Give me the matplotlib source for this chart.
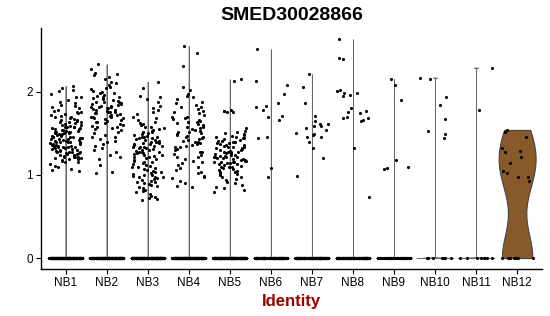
import numpy as np
import matplotlib.pyplot as plt

plt.rcParams['font.family'] = ['Liberation Sans', 'DejaVu Sans']

clusters = ['NB1', 'NB2', 'NB3', 'NB4', 'NB5', 'NB6', 'NB7', 'NB8', 'NB9', 'NB10', 'NB11', 'NB12']

# number of cells with zero expression per cluster
zero_counts = [400, 380, 420, 380, 400, 260, 300, 260, 120, 9, 8, 9]

# expressed (non-zero) values per cluster
nb1 = [2.07, 2.04, 2.02, 2.01, 1.97, 1.94, 1.93, 1.90,
       1.88, 1.86, 1.84, 1.83, 1.81, 1.80, 1.78, 1.77, 1.76, 1.75, 1.74, 1.73, 1.72, 1.71, 1.70,
       1.69, 1.68, 1.67, 1.66, 1.66, 1.65, 1.64, 1.63, 1.63, 1.62, 1.61, 1.60, 1.60, 1.59, 1.58,
       1.58, 1.57, 1.57, 1.56, 1.56, 1.55, 1.55, 1.54, 1.54, 1.53, 1.53, 1.52, 1.52, 1.51, 1.51,
       1.50, 1.50, 1.50, 1.49, 1.49, 1.48, 1.48, 1.47, 1.47, 1.46, 1.46, 1.46, 1.45, 1.45, 1.44,
       1.44, 1.43, 1.43, 1.43, 1.42, 1.42, 1.41, 1.41, 1.40, 1.40, 1.40, 1.39, 1.39, 1.38, 1.38,
       1.38, 1.37, 1.37, 1.36, 1.36, 1.36, 1.35, 1.35, 1.34, 1.34, 1.33, 1.33, 1.33, 1.32, 1.32,
       1.31, 1.31, 1.30, 1.30, 1.29, 1.29, 1.28, 1.28, 1.27, 1.27, 1.26, 1.26, 1.25, 1.25, 1.24,
       1.24, 1.23, 1.23, 1.22, 1.22, 1.21, 1.21, 1.20, 1.20, 1.19, 1.19, 1.18, 1.17, 1.16, 1.15,
       1.13, 1.11, 1.09, 1.07, 1.06, 1.05]
nb2 = [2.33, 2.27, 2.23, 2.21, 2.20, 2.18, 2.15, 2.12, 2.10, 2.08, 2.06, 2.05, 2.03, 2.01, 2.00,
       1.99, 1.98, 1.96, 1.95, 1.94, 1.93, 1.92, 1.91, 1.90, 1.89, 1.88, 1.87, 1.87, 1.86, 1.85,
       1.85, 1.84, 1.83, 1.83, 1.82, 1.81, 1.81, 1.80, 1.80, 1.79, 1.78, 1.78, 1.77, 1.76, 1.76,
       1.75, 1.74, 1.74, 1.73, 1.72, 1.72, 1.71, 1.70, 1.70, 1.69, 1.68, 1.68, 1.67, 1.66, 1.65,
       1.64, 1.63, 1.62, 1.61, 1.60, 1.59, 1.58, 1.57, 1.56, 1.55, 1.54, 1.52, 1.50, 1.48, 1.46,
       1.45, 1.43, 1.41, 1.39, 1.37, 1.35, 1.32, 1.30, 1.27, 1.24, 1.22, 1.19, 1.12, 1.04, 1.02]
nb3 = [2.12, 2.05, 1.95, 1.93, 1.91, 1.88, 1.83, 1.80, 1.78, 1.76, 1.73, 1.70, 1.68, 1.66, 1.64,
       1.62, 1.61, 1.60, 1.58, 1.57, 1.56, 1.55, 1.54, 1.53, 1.52, 1.51, 1.50, 1.49, 1.48, 1.47,
       1.46, 1.46, 1.45, 1.44, 1.44, 1.43, 1.42, 1.42, 1.41, 1.40, 1.40, 1.39, 1.38, 1.38, 1.37,
       1.37, 1.36, 1.35, 1.35, 1.34, 1.34, 1.33, 1.32, 1.32, 1.31, 1.30, 1.30, 1.29, 1.28, 1.28,
       1.27, 1.26, 1.26, 1.25, 1.24, 1.24, 1.23, 1.22, 1.21, 1.20, 1.19, 1.18, 1.17, 1.16, 1.15,
       1.14, 1.13, 1.12, 1.11, 1.10, 1.09, 1.08, 1.07, 1.06, 1.05, 1.04, 1.03, 1.02, 1.01, 1.00,
       1.00, 0.99, 0.98, 0.98, 0.97, 0.96, 0.95, 0.94, 0.93, 0.92, 0.91, 0.90, 0.89, 0.88, 0.87,
       0.86, 0.84, 0.82, 0.81, 0.79, 0.77, 0.75, 0.73, 0.72, 0.71, 0.70]
nb4 = [2.55, 2.47, 2.31, 2.06, 2.02, 1.97, 1.95, 1.93, 1.91, 1.88, 1.86, 1.84, 1.82, 1.81, 1.79,
       1.77, 1.75, 1.74, 1.72, 1.70, 1.69, 1.68, 1.67, 1.66, 1.65, 1.64, 1.63, 1.62, 1.61, 1.60,
       1.59, 1.58, 1.57, 1.56, 1.55, 1.54, 1.53, 1.52, 1.51, 1.50, 1.49, 1.48, 1.47, 1.46, 1.45,
       1.44, 1.43, 1.42, 1.41, 1.40, 1.39, 1.38, 1.37, 1.36, 1.35, 1.34, 1.33, 1.31, 1.30, 1.28,
       1.27, 1.25, 1.24, 1.22, 1.21, 1.19, 1.17, 1.16, 1.14, 1.12, 1.10, 1.08, 1.06, 1.04, 1.02,
       0.99, 0.98, 0.96, 0.93, 0.90, 0.87, 0.85]
nb5 = [2.15, 2.13, 1.78, 1.77, 1.77, 1.76, 1.76, 1.56, 1.53, 1.52, 1.50, 1.49, 1.48, 1.47, 1.46,
       1.45, 1.44, 1.44, 1.43, 1.42, 1.41, 1.41, 1.40, 1.39, 1.38, 1.38, 1.37, 1.36, 1.36, 1.35,
       1.34, 1.34, 1.33, 1.32, 1.32, 1.31, 1.30, 1.30, 1.29, 1.28, 1.28, 1.27, 1.27, 1.26, 1.25,
       1.25, 1.24, 1.24, 1.23, 1.23, 1.22, 1.22, 1.21, 1.21, 1.20, 1.20, 1.19, 1.19, 1.18, 1.18,
       1.17, 1.17, 1.16, 1.16, 1.15, 1.15, 1.14, 1.14, 1.13, 1.13, 1.12, 1.11, 1.10, 1.10, 1.09,
       1.08, 1.07, 1.06, 1.05, 1.04, 1.03, 1.02, 1.01, 1.00, 0.98, 0.97, 0.95, 0.94, 0.92, 0.90,
       0.88, 0.86, 0.84, 0.82, 0.80]
nb6 = [2.51, 2.13, 2.08, 1.97, 1.86, 1.83, 1.82, 1.78, 1.71, 1.69, 1.66, 1.45, 1.44, 1.08, 0.98]
nb7 = [2.21, 2.06, 1.86, 1.71, 1.65, 1.61, 1.61, 1.59, 1.59, 1.56, 1.54, 1.50, 1.49, 1.48, 1.46,
       1.45, 1.40, 1.32, 1.20, 0.99]
nb8 = [2.63, 2.41, 2.39, 2.02, 2.01, 1.99, 1.99, 1.96, 1.95, 1.80, 1.77, 1.75, 1.74, 1.69, 1.68,
       1.68, 1.66, 1.65, 1.32, 0.74]
nb9 = [2.15, 2.08, 1.90, 1.18, 1.10, 1.08, 1.07]
nb10 = [2.17, 2.15, 1.93, 1.84, 1.67, 1.53, 1.49, 1.44]
nb11 = [2.29, 1.78]
nb12 = [1.54, 1.51, 1.45, 1.32, 1.29, 1.27, 1.22, 1.14, 1.05, 1.02, 0.98, 0.97, 0.93]

expressed = [nb1, nb2, nb3, nb4, nb5, nb6, nb7, nb8, nb9, nb10, nb11, nb12]

violin_fill = '#88592B'
title = 'SMED30028866'
xlabel = 'Identity'

groups = []
for z, v in zip(zero_counts, expressed):
    groups.append(np.concatenate([np.zeros(z), np.array(v)]))

fig = plt.figure(figsize=(5.5, 3.16), dpi=100)
ax = fig.add_axes([0.0745, 0.1487, 0.9105, 0.7617])

pos = np.arange(1, len(clusters) + 1)
for i, g in enumerate(groups):
    # groups dominated by zeros get an almost zero bandwidth -> thin line, as in the original
    frac_zero = zero_counts[i] / len(g)
    bw = 0.55 if frac_zero < 0.5 else 1e-5
    vp = ax.violinplot([g], positions=[pos[i]], widths=0.9, bw_method=bw,
                       showextrema=False, points=200)
    for body in vp['bodies']:
        if frac_zero < 0.5:
            body.set_facecolor(violin_fill)
            body.set_alpha(1)
            body.set_edgecolor('#444444')
            body.set_linewidth(0.8)
        else:
            body.set_facecolor('#777777')
            body.set_alpha(1)
            body.set_edgecolor('#666666')
            body.set_linewidth(0.6)

# jitter in x: deterministic hash scramble so it does not form a lattice
for i, g in enumerate(groups):
    k = np.arange(len(g))
    h = np.sin(k * 12.9898 + (i + 1) * 78.233) * 43758.5453
    off = ((h - np.floor(h)) - 0.5) * 0.8
    ax.scatter(pos[i] + off, g, s=5, color='black', linewidths=0, zorder=3)

ymax = max(max(v) for v in expressed)
pad = 0.05 * ymax
ax.set_ylim(-pad, ymax + pad)
ax.set_xlim(0.4, len(clusters) + 0.6)

ax.set_xticks(pos)
ax.set_xticklabels(clusters, fontsize=8.5)
ax.set_yticks([0, 1, 2])
ax.set_yticklabels(['0', '1', '2'], fontsize=8.5)
ax.tick_params(length=3.5, width=0.8, pad=2.5)

for s in ['top', 'right']:
    ax.spines[s].set_visible(False)
for s in ['left', 'bottom']:
    ax.spines[s].set_linewidth(1.0)

ax.set_title(title, fontsize=14, fontweight='bold', pad=6)
ax.set_xlabel(xlabel, fontsize=12, fontweight='bold', color='#990000', labelpad=3)

fig.savefig('out.png', dpi=100)
